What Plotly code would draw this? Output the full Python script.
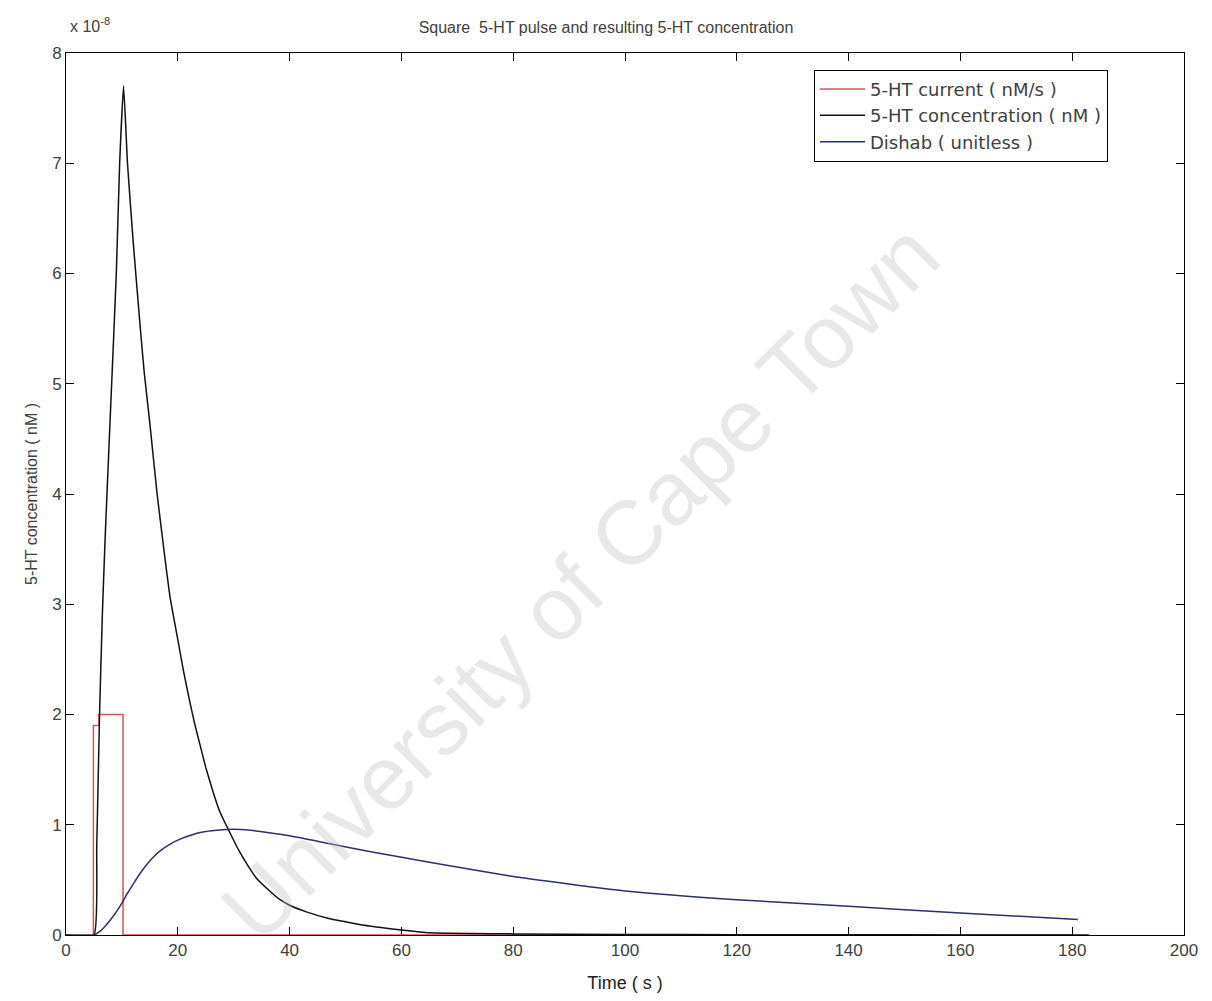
import plotly.graph_objects as go

# ---- data (values in units of 1e-8) ----
t_current = [0, 4.9, 4.9, 5.9, 5.9, 10.2, 10.2, 180]
current = [0, 0, 1.9, 1.9, 2.0, 2.0, 0, 0]

t_conc = [0, 5, 5.5, 6, 6.5, 7, 8, 9, 9.6, 10.3, 11, 12, 13.2, 14, 15, 16.3, 17.5,
          18.6, 20, 21, 22, 23, 24, 25, 26.3, 27.5, 29.3, 31, 32.4, 34, 36, 38.3,
          40, 43, 47, 50, 53, 56, 60, 65, 80, 100, 120, 140, 160, 180, 183]
conc = [0, 0, 0.8, 2.0, 2.9, 3.6, 4.8, 6.0, 7.0, 7.7, 7.0, 6.3, 5.56, 5.1, 4.64,
        4.0, 3.5, 3.07, 2.68, 2.4, 2.15, 1.92, 1.72, 1.52, 1.30, 1.12, 0.93, 0.76,
        0.64, 0.52, 0.42, 0.32, 0.27, 0.21, 0.15, 0.12, 0.09, 0.07, 0.045, 0.02,
        0.01, 0.005, 0.003, 0.002, 0.001, 0.001, 0]

t_dishab = [0, 5, 6, 7, 8, 9, 10, 11, 12, 13, 14, 15.5, 17, 18.5, 20, 22, 24, 27,
            30, 33, 40, 47, 55, 65, 80, 100, 120, 140, 160, 181]
dishab = [0, 0, 0.03, 0.08, 0.14, 0.21, 0.29, 0.38, 0.46, 0.54, 0.61, 0.70, 0.77,
          0.82, 0.86, 0.90, 0.93, 0.95, 0.96, 0.95, 0.90, 0.83, 0.75, 0.66, 0.53,
          0.40, 0.32, 0.26, 0.20, 0.14]

x_ticks = list(range(0, 201, 20))
y_ticks = list(range(0, 9))

FONT = "Liberation Sans, Arial, sans-serif"
LFONT = "DejaVu Sans, Liberation Sans, sans-serif"
TXT = "#404040"

fig = go.Figure()
fig.add_trace(go.Scatter(x=t_current, y=current, mode="lines",
                         name="5-HT current ( nM/s )",
                         line=dict(color="#d9534f", width=1.5)))
fig.add_trace(go.Scatter(x=t_conc, y=conc, mode="lines",
                         name="5-HT concentration ( nM )",
                         line=dict(color="#111111", width=1.5, shape="spline",
                                   smoothing=0.4)))
fig.add_trace(go.Scatter(x=t_dishab, y=dishab, mode="lines",
                         name="Dishab ( unitless )",
                         line=dict(color="#2a2f6e", width=1.5, shape="spline",
                                   smoothing=0.4)))

axis_common = dict(showgrid=False, zeroline=False, showline=True,
                   linecolor="black", linewidth=1, mirror="ticks",
                   ticks="inside", ticklen=8, tickcolor="black",
                   tickfont=dict(family=FONT, size=17, color=TXT))

fig.update_xaxes(range=[0, 200], tickvals=x_ticks,
                 title=dict(text="Time ( s )", font=dict(family=FONT, size=18, color="#222"),
                            standoff=16),
                 **axis_common)
fig.update_yaxes(range=[0, 8], tickvals=y_ticks,
                 title=dict(text="5-HT concentration ( nM )",
                            font=dict(family=FONT, size=16, color=TXT), standoff=10),
                 **axis_common)

fig.update_layout(
    width=1212, height=1001,
    margin=dict(l=66, r=28, t=53, b=66),
    paper_bgcolor="white", plot_bgcolor="white",
    title=dict(text="Square  5-HT pulse and resulting 5-HT concentration",
               x=0.5, xanchor="center", y=0.973, yanchor="middle",
               font=dict(family=FONT, size=16, color=TXT)),
    legend=dict(x=0.932, xanchor="right", y=0.981, yanchor="top",
                bgcolor="white", bordercolor="black", borderwidth=1,
                font=dict(family=LFONT, size=18, color=TXT),
                tracegroupgap=0, itemwidth=45),
    showlegend=True,
    annotations=[
        dict(text="x 10<sup>-8</sup>", xref="paper", yref="paper", x=0.0, y=1.0,
             xanchor="left", yanchor="bottom", showarrow=False, yshift=16, xshift=2,
             font=dict(family=FONT, size=16, color=TXT)),
        dict(text="University of Cape Town", xref="paper", yref="paper",
             x=0.46, y=0.4, showarrow=False, textangle=-45,
             font=dict(family=FONT, size=90, color="rgba(190,190,190,0.35)")),
    ],
)

fig.write_html("out.html")
